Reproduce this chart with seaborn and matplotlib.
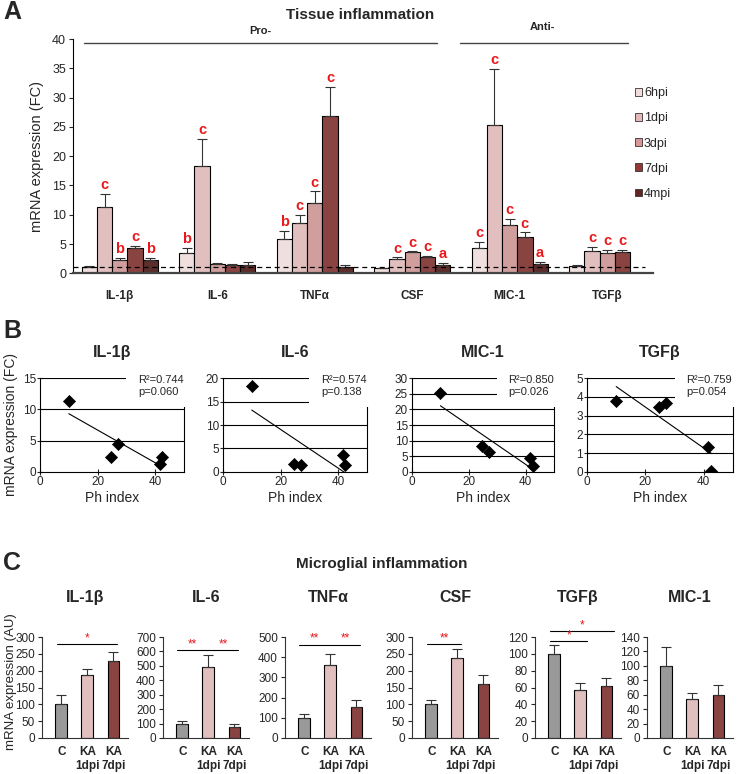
import numpy as np
import pandas as pd
import matplotlib
matplotlib.use('Agg')
import matplotlib.pyplot as plt
import seaborn as sns
from matplotlib.patches import Patch, Rectangle

# ---------------- data ----------------
# panel A: tissue inflammation, fold change vs control
genes_a = ['IL-1β', 'IL-6', 'TNFα', 'CSF', 'MIC-1', 'TGFβ']
times = ['6hpi', '1dpi', '3dpi', '7dpi', '4mpi']
time_colors = ['#f2dcdb', '#e6b9b8', '#d99694', '#953735', '#632523']

fc_il1b = [1.1, 11.3, 2.3, 4.4, 2.3]
fc_il6 = [3.4, 18.4, 1.6, 1.5, 1.4]
fc_tnfa = [5.8, 8.6, 12.0, 26.9, 1.1]
fc_csf = [0.85, 2.4, 3.6, 2.8, 1.4]
fc_mic1 = [4.4, 25.3, 8.2, 6.2, 1.6]
fc_tgfb = [1.25, 3.75, 3.4, 3.6, np.nan]

se_il1b = [0.2, 2.2, 0.35, 0.25, 0.35]
se_il6 = [0.9, 4.5, 0.1, 0.1, 0.5]
se_tnfa = [1.5, 1.35, 2.0, 4.9, 0.4]
se_csf = [0.1, 0.3, 0.15, 0.15, 0.4]
se_mic1 = [0.9, 9.6, 1.1, 0.8, 0.4]
se_tgfb = [0.1, 0.8, 0.6, 0.4, np.nan]

let_il1b = ['', 'c', 'b', 'c', 'b']
let_il6 = ['b', 'c', '', '', '']
let_tnfa = ['b', 'c', 'c', 'c', '']
let_csf = ['', 'c', 'c', 'c', 'a']
let_mic1 = ['c', 'c', 'c', 'c', 'a']
let_tgfb = ['', 'c', 'c', 'c', '']

# panel B: correlation with Ph index (order of times above)
ph_index = [41.5, 10, 24.5, 27, 42.5]
b_genes = ['IL-1β', 'IL-6', 'MIC-1', 'TGFβ']
b_il1b = [1.2, 11.3, 2.3, 4.4, 2.3]
b_il6 = [3.5, 18.4, 1.6, 1.5, 1.4]
b_mic1 = [4.5, 25.2, 8.3, 6.3, 1.7]
b_tgfb = [1.3, 3.8, 3.45, 3.7, 0.05]
b_stats = ['R²=0.744\np=0.060', 'R²=0.574\np=0.138', 'R²=0.850\np=0.026', 'R²=0.759\np=0.054']
b_ymax = [15, 20, 30, 5]
b_ystep = [5, 5, 5, 1]

# panel C: microglial inflammation (AU)
c_genes = ['IL-1β', 'IL-6', 'TNFα', 'CSF', 'TGFβ', 'MIC-1']
c_groups = ['C', 'KA\n1dpi', 'KA\n7dpi']
c_colors = ['#999999', '#e6b9b8', '#953735']
c_mean = [[100, 186, 228], [100, 495, 78], [100, 362, 152],
          [100, 238, 160], [100, 57, 62], [100, 54, 59]]
c_err = [[28, 20, 27], [20, 80, 18], [20, 55, 35],
         [12, 27, 26], [11, 8, 9], [26, 8, 15]]
c_ymax = [300, 700, 500, 300, 120, 140]
c_ystep = [50, 100, 100, 50, 20, 20]
# significance bars: (from, to, height, stars)
c_sig = [[(-0.15, 2.15, 278, '*')],
         [(-0.2, 1.0, 610, '**'), (1.0, 2.15, 610, '**')],
         [(-0.2, 1.0, 462, '**'), (1.0, 2.15, 462, '**')],
         [(-0.15, 1.15, 279, '**')],
         [(-0.15, 1.25, 115, '*'), (-0.15, 2.3, 127, '*')],
         []]

# ---------------- figure ----------------
sns.set_style('white')
plt.rcParams['font.family'] = ['Liberation Sans', 'DejaVu Sans']

W, H = 740, 774
fig = plt.figure(figsize=(W / 100, H / 100), dpi=100)


def px_axes(x0, y0, x1, y1):
    return fig.add_axes([x0 / W, 1 - y1 / H, (x1 - x0) / W, (y1 - y0) / H])


# ---- A ----
rows = []
for g, fc, se, let in zip(genes_a,
                          [fc_il1b, fc_il6, fc_tnfa, fc_csf, fc_mic1, fc_tgfb],
                          [se_il1b, se_il6, se_tnfa, se_csf, se_mic1, se_tgfb],
                          [let_il1b, let_il6, let_tnfa, let_csf, let_mic1, let_tgfb]):
    for t, v, e, l in zip(times, fc, se, let):
        rows.append(dict(gene=g, time=t, fc=v, se=e, letter=l))
df_a = pd.DataFrame(rows).dropna(subset=['fc'])

ax = px_axes(73, 39, 653, 273.3)
sns.barplot(data=df_a, x='gene', y='fc', hue='time', order=genes_a, hue_order=times,
            palette=time_colors, width=0.78, errorbar=None, edgecolor='black',
            linewidth=0.8, legend=False, ax=ax)
for j, t in enumerate(times):
    sub = df_a[df_a.time == t]
    for bar, (_, r) in zip(ax.containers[j], sub.iterrows()):
        xc = bar.get_x() + bar.get_width() / 2
        ax.errorbar(xc, r.fc, yerr=[[0], [r.se]], color='#333333', lw=0.8,
                    capsize=3.5, capthick=0.8)
        if r.letter:
            ax.text(xc, r.fc + r.se + 0.3, r.letter, color='#e8191c', fontsize=10.5,
                    fontweight='bold', ha='center', va='bottom')
ax.axhline(1, xmin=0, xmax=0.986, ls='--', color='black', lw=0.9, dashes=(4, 3))
ax.set_xlim(-0.48, 5.47)
ax.set_ylim(0, 40)
ax.set_yticks(np.arange(0, 41, 5))
ax.set_xlabel('')
ax.set_ylabel('mRNA expression (FC)', fontsize=10.5, labelpad=6)
ax.tick_params(axis='y', left=True, length=3, width=0.8, labelsize=9, pad=2)
ax.tick_params(axis='x', length=0, pad=12)
for lab in ax.get_xticklabels():
    lab.set_fontweight('bold')
    lab.set_fontsize(8.5)
sns.despine(ax=ax)
ax.spines['left'].set_color('black')
ax.spines['left'].set_linewidth(0.8)
ax.spines['bottom'].set_color('#444444')
ax.spines['bottom'].set_linewidth(1.6)

# Pro- / Anti- brackets
ax.plot([-0.37, 3.25], [39.35, 39.35], color='#444444', lw=1, clip_on=False)
ax.plot([3.49, 5.215], [39.35, 39.35], color='#444444', lw=1, clip_on=False)
ax.text(1.44, 41.4, 'Pro-', fontsize=8, fontweight='bold', ha='center', va='center')
ax.text(4.34, 42.0, 'Anti-', fontsize=8, fontweight='bold', ha='center', va='center')

handles = [Patch(facecolor=c, edgecolor='#333333', lw=0.6) for c in time_colors]
fig.legend(handles, times, loc='upper left', bbox_to_anchor=(624 / W, 1 - 76 / H),
           frameon=False, fontsize=9, handlelength=0.55, handleheight=0.55,
           handletextpad=0.15, labelspacing=1.05)

fig.text(360 / W, 1 - 15 / H, 'Tissue inflammation', fontsize=11, fontweight='bold',
         ha='center', va='center')

# ---- B ----
b_left = [40, 223, 412, 587]
b_width = [144, 144, 142, 146]
for k, (g, vals) in enumerate(zip(b_genes, [b_il1b, b_il6, b_mic1, b_tgfb])):
    ax = px_axes(b_left[k], 378.3, b_left[k] + b_width[k], 471.7)
    for yv in np.arange(b_ystep[k], b_ymax[k] + 0.01, b_ystep[k]):
        ax.axhline(yv, color='black', lw=0.8, zorder=1)
    sns.regplot(x=ph_index, y=vals, scatter=False, ci=None, color='black',
                line_kws=dict(lw=0.8), truncate=True, ax=ax)
    sns.scatterplot(x=ph_index, y=vals, marker='D', color='black', s=38,
                    edgecolor='black', ax=ax, zorder=5)
    ax.add_patch(Rectangle((0.6, 0.69), 0.5, 0.4, transform=ax.transAxes,
                           facecolor='white', edgecolor='none', zorder=3, clip_on=False))
    ax.text(0.68, 1.04, b_stats[k], transform=ax.transAxes, ha='left', va='top',
            fontsize=8, linespacing=1.3, zorder=4)
    ax.set_xlim(0, 50)
    ax.set_ylim(0, b_ymax[k])
    ax.set_xticks([0, 20, 40])
    ax.set_yticks(np.arange(0, b_ymax[k] + 0.01, b_ystep[k]))
    ax.tick_params(direction='inout', length=4, width=0.8, labelsize=8.5, pad=1,
                   left=True, bottom=True)
    ax.spines['top'].set_visible(False)
    for s in ['left', 'bottom', 'right']:
        ax.spines[s].set_color('black')
        ax.spines[s].set_linewidth(0.8)
    ax.set_xlabel('Ph index', fontsize=10, labelpad=2)
    ax.set_title(g, fontsize=11.5, fontweight='bold', pad=15)
    if k == 0:
        ax.set_ylabel('mRNA expression (FC)', fontsize=10, labelpad=3)

# ---- C ----
c_left = [42, 163, 285, 412, 535, 647]
for k, g in enumerate(c_genes):
    ax = px_axes(c_left[k], 637, c_left[k] + 86, 738)
    sns.barplot(x=c_groups, y=c_mean[k], hue=c_groups, palette=c_colors, width=0.45,
                edgecolor='black', linewidth=0.8, legend=False, ax=ax)
    ax.errorbar([0, 1, 2], c_mean[k], yerr=[[0, 0, 0], c_err[k]], fmt='none',
                ecolor='#333333', elinewidth=0.8, capsize=3.5, capthick=0.8)
    for x0, x1, y, st in c_sig[k]:
        ax.plot([x0, x1], [y, y], color='black', lw=0.8, clip_on=False)
        ax.text((x0 + x1) / 2, y, st, color='#e8191c', fontsize=8.5, ha='center',
                va='bottom', clip_on=False)
    ax.set_xlim(-0.74, 2.56)
    ax.set_ylim(0, c_ymax[k])
    ax.set_yticks(np.arange(0, c_ymax[k] + 1, c_ystep[k]))
    ax.tick_params(axis='y', left=True, length=3, width=0.8, labelsize=8.5, pad=2)
    ax.tick_params(axis='x', length=0, pad=6)
    for lab in ax.get_xticklabels():
        lab.set_fontweight('bold')
        lab.set_fontsize(8.5)
    sns.despine(ax=ax)
    for s in ['left', 'bottom']:
        ax.spines[s].set_color('#333333')
        ax.spines[s].set_linewidth(0.8)
    ax.set_title(g, fontsize=11.5, fontweight='bold', pad=25)

fig.text(11 / W, 1 - 682 / H, 'mRNA expression (AU)', fontsize=9.5, rotation=90,
         ha='center', va='center')
fig.text(382 / W, 1 - 564 / H, 'Microglial inflammation', fontsize=11,
         fontweight='bold', ha='center', va='center')

# panel letters
for lab, yy in [('A', 12), ('B', 331), ('C', 563)]:
    fig.text(3 / W, 1 - yy / H, lab, fontsize=18, fontweight='bold', va='center', ha='left')

fig.savefig('out.png', dpi=100)
